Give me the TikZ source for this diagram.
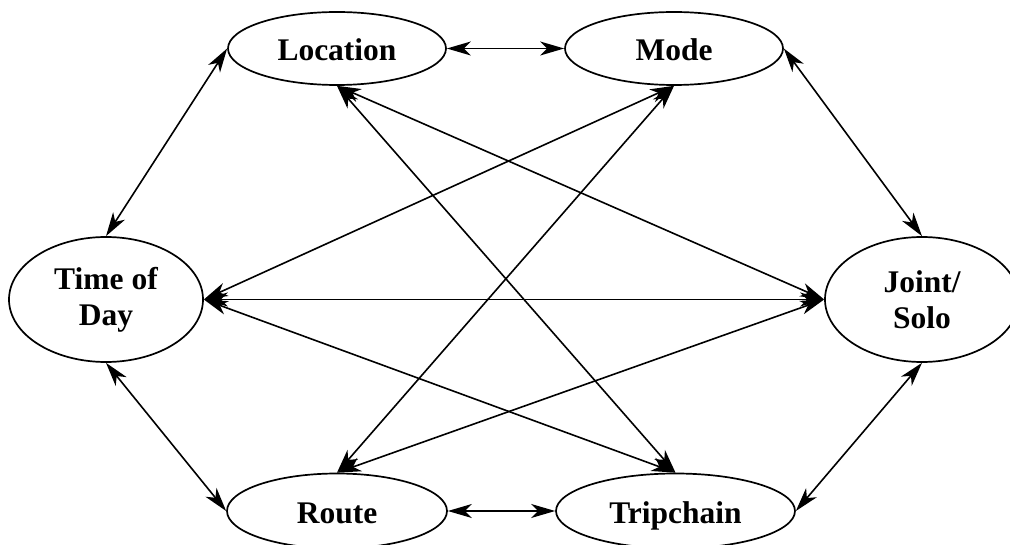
\documentclass[tikz,border=0pt]{standalone}
\usepackage{fontspec}
\setmainfont{Liberation Serif}
\usetikzlibrary{shapes.geometric,arrows.meta}
\tikzset{
  factor/.style={draw, ellipse, line width=1.7pt, inner sep=0pt, align=center,
    font=\fontsize{31.5}{36}\selectfont\bfseries},
  oneline/.style={text height=28pt, text depth=4pt},
  link/.style={line width=1.6pt, <->}
}
\begin{document}
\begin{tikzpicture}[x=1pt,y=-1pt, >={Stealth[length=24pt,width=14pt,inset=7pt]}]
\useasboundingbox (0,0) rectangle (1010,545);

% the six factors
\node[factor, oneline, minimum width=218pt, minimum height=73pt] (loc)   at (337,48.5)  {Location};
\node[factor, oneline, minimum width=218pt, minimum height=73pt] (mode)  at (674,48.5)  {Mode};
\node[factor, minimum width=194pt, minimum height=125pt] (tod)  at (106,299.5) {Time of\\Day};
\node[factor, minimum width=194pt, minimum height=125pt] (js)   at (922,299.5) {Joint/\\Solo};
\node[factor, oneline, minimum width=220pt, minimum height=75pt] (route) at (337,511)   {Route};
\node[factor, oneline, minimum width=239pt, minimum height=75pt] (trip)  at (675.5,511) {Tripchain};

% outer ring of interactions
\draw[link] (loc.east)   -- (mode.west);
\draw[link] (loc.west)   -- (tod.north);
\draw[link] (mode.east)  -- (js.north);
\draw[link] (tod.south)  -- (route.west);
\draw[link] (js.south)   -- (trip.east);
\draw[link] (route.east) -- (trip.west);

% cross interactions
\draw[link] (tod.east)    -- (js.west);
\draw[link] (tod.east)    -- (mode.south);
\draw[link] (tod.east)    -- (trip.north);
\draw[link] (loc.south)   -- (js.west);
\draw[link] (loc.south)   -- (trip.north);
\draw[link] (route.north) -- (mode.south);
\draw[link] (route.north) -- (js.west);
\end{tikzpicture}
\end{document}
